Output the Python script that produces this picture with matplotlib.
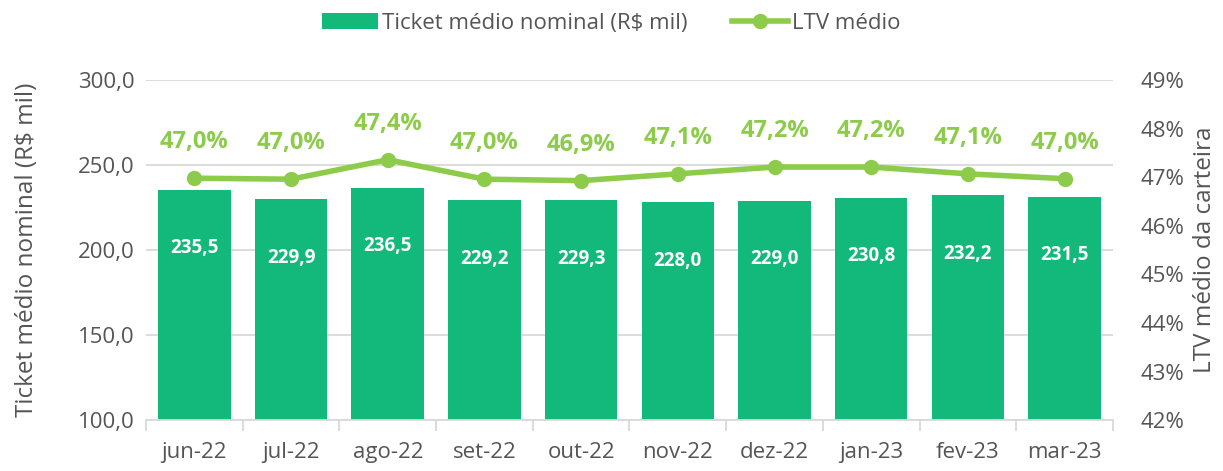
import matplotlib.pyplot as plt
import numpy as np
from matplotlib.ticker import FuncFormatter, FixedLocator

plt.rcParams['font.family'] = ['Open Sans', 'DejaVu Sans']

meses = ['jun-22', 'jul-22', 'ago-22', 'set-22', 'out-22',
         'nov-22', 'dez-22', 'jan-23', 'fev-23', 'mar-23']
ticket = [235.5, 229.9, 236.5, 229.2, 229.3, 228.0, 229.0, 230.8, 232.2, 231.5]
ltv = [46.98, 46.96, 47.36, 46.96, 46.93, 47.07, 47.21, 47.21, 47.07, 46.97]

verde_barra = '#13B97A'
verde_linha = '#8DCC4A'
cinza = '#555555'
grade = '#D9D9D9'

fig, ax = plt.subplots(figsize=(12.23, 4.71), dpi=100)
fig.subplots_adjust(left=0.1194, right=0.9100, top=0.830, bottom=0.108)

x = np.arange(len(meses))
barras = ax.bar(x, ticket, width=0.75, color=verde_barra, zorder=2,
                label='Ticket médio nominal (R$ mil)')
ax.set_ylim(100, 300)
ax.set_xlim(-0.5, len(meses) - 0.5)
ax.set_yticks(np.arange(100, 301, 50))
ax.yaxis.set_major_formatter(FuncFormatter(lambda v, p: f'{v:.1f}'.replace('.', ',')))
ax.grid(axis='y', color=grade, linewidth=1.3, zorder=0)
ax.set_xticks(x)
ax.set_xticklabels(meses)
ax.xaxis.set_minor_locator(FixedLocator(np.arange(-0.5, len(meses), 1)))
ax.tick_params(axis='x', which='major', length=0, pad=16, labelsize=16, colors=cinza)
ax.tick_params(axis='x', which='minor', length=8, width=1.3, color=grade)
ax.tick_params(axis='y', length=0, labelsize=16, colors=cinza, pad=8)
for s in ['top', 'right', 'left']:
    ax.spines[s].set_visible(False)
ax.spines['bottom'].set_color(grade)
ax.spines['bottom'].set_linewidth(1.3)
ax.set_ylabel('Ticket médio nominal (R$ mil)', fontsize=17.5, color=cinza, labelpad=28)

for b, v in zip(barras, ticket):
    ax.annotate(f'{v:.1f}'.replace('.', ','), (b.get_x() + b.get_width() / 2, v),
                xytext=(0, -42), textcoords='offset points', ha='center', va='center',
                color='white', fontsize=13.5, fontweight='bold')

ax2 = ax.twinx()
linha, = ax2.plot(x, ltv, color=verde_linha, linewidth=4, marker='o', markersize=10,
                  zorder=3, label='LTV médio')
ax2.set_ylim(42, 49)
ax2.set_yticks(np.arange(42, 50, 1))
ax2.yaxis.set_major_formatter(FuncFormatter(lambda v, p: f'{v:.0f}%'))
ax2.tick_params(axis='y', length=0, labelsize=16, colors=cinza, pad=20)
for s in ['top', 'right', 'left', 'bottom']:
    ax2.spines[s].set_visible(False)
ax2.set_ylabel('LTV médio da carteira', fontsize=17.5, color=cinza, labelpad=6)

for xi, v in zip(x, ltv):
    ax2.annotate(f'{v:.1f}%'.replace('.', ','), (xi, v), xytext=(0, 26),
                 textcoords='offset points', ha='center', va='center',
                 color=verde_linha, fontsize=17, fontweight='bold')

fig.legend([barras, linha], ['Ticket médio nominal (R$ mil)', 'LTV médio'],
           loc='upper center', bbox_to_anchor=(0.5, 1.015), ncol=2, frameon=False,
           fontsize=16, labelcolor=cinza, handlelength=2.5, columnspacing=2.0,
           handletextpad=0.2)

fig.savefig('out.png', dpi=100)
